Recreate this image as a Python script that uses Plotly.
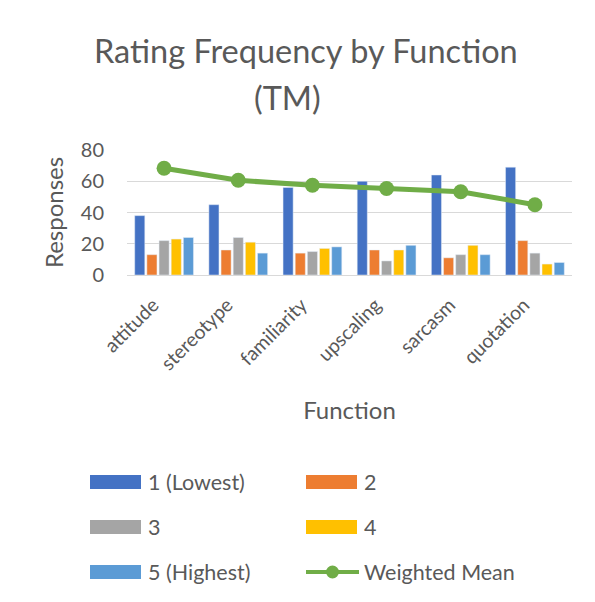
import plotly.graph_objects as go

categories = ["attitude", "stereotype", "familiarity", "upscaling", "sarcasm", "quotation"]
r1_lowest = [38, 45, 56, 60, 64, 69]
r2 = [13, 16, 14, 16, 11, 22]
r3 = [22, 24, 15, 9, 13, 14]
r4 = [23, 21, 17, 16, 19, 7]
r5_highest = [24, 14, 18, 19, 13, 8]
weighted_mean = [68.3, 60.6, 57.4, 55.4, 53.3, 45.0]
y_ticks = [0, 20, 40, 60, 80]

series_names = ["1 (Lowest)", "2", "3", "4", "5 (Highest)"]
colors = ["#4472C4", "#ED7D31", "#A5A5A5", "#FFC000", "#5B9BD5"]
line_color = "#70AD47"
text_color = "#595959"
FONT = "Lato"

# page has an 8px body margin; the figure is sized to fit the window
OFF = 8
W, H = 595 - OFF, 602 - OFF
L, R, T, B = 127 - OFF, 23, 150 - OFF, 327
PW, PH = W - L - R, H - T - B


def px(x):
    return (x - OFF - L) / PW


def py(y):
    return (H - B - (y - OFF)) / PH


fig = go.Figure()
for name, vals, col in zip(series_names, [r1_lowest, r2, r3, r4, r5_highest], colors):
    fig.add_trace(go.Bar(x=categories, y=vals, name=name, marker_color=col,
                         showlegend=False))
fig.add_trace(go.Scatter(x=categories, y=weighted_mean, name="Weighted Mean",
                         mode="lines+markers",
                         line=dict(color=line_color, width=5),
                         marker=dict(color=line_color, size=15),
                         showlegend=False))

shapes = []
annotations = []

# title lines
annotations.append(dict(text="Rating Frequency by Function", xref="paper", yref="paper",
                        x=px(305.5), y=py(50), xanchor="center", yanchor="middle",
                        showarrow=False, font=dict(family=FONT, size=32.5, color=text_color)))
annotations.append(dict(text="(TM)", xref="paper", yref="paper",
                        x=px(287.5), y=py(97), xanchor="center", yanchor="middle",
                        showarrow=False, font=dict(family=FONT, size=32.5, color=text_color)))

# manual legend
legend_items = [(n, c, "bar") for n, c in zip(series_names, colors)] + [("Weighted Mean", line_color, "line")]
col_x = [90, 306]
row_y = [482, 527, 572]
for i, (name, col, kind) in enumerate(legend_items):
    cx = col_x[i % 2]
    cy = row_y[i // 2]
    if kind == "bar":
        shapes.append(dict(type="rect", xref="paper", yref="paper",
                           x0=px(cx), x1=px(cx + 51), y0=py(cy - 7), y1=py(cy + 7),
                           fillcolor=col, line=dict(width=0)))
    else:
        shapes.append(dict(type="line", xref="paper", yref="paper",
                           x0=px(cx), x1=px(cx + 53), y0=py(cy), y1=py(cy),
                           line=dict(color=col, width=4)))
        shapes.append(dict(type="circle", xref="paper", yref="paper",
                           x0=px(cx + 26.5 - 6.5), x1=px(cx + 26.5 + 6.5),
                           y0=py(cy - 6.5), y1=py(cy + 6.5),
                           fillcolor=col, line=dict(width=0)))
    annotations.append(dict(text=name, xref="paper", yref="paper",
                            x=px(cx + 56), y=py(cy), xanchor="left", yanchor="middle",
                            showarrow=False, font=dict(family=FONT, size=21.5, color=text_color)))

fig.update_layout(
    width=W, height=H,
    margin=dict(l=L, r=R, t=T, b=B),
    paper_bgcolor="white", plot_bgcolor="white",
    barmode="group", bargap=0.18, bargroupgap=0.17,
    font=dict(family=FONT, color=text_color),
    showlegend=False,
    shapes=shapes,
    annotations=annotations,
    xaxis=dict(tickangle=-45, tickfont=dict(size=19.5, color=text_color),
               showline=True, linecolor="#D9D9D9", linewidth=1, ticks="",
               ticklabelstandoff=10, ticklabelshift=-11,
               title=dict(text="Function", font=dict(size=24, color=text_color), standoff=28)),
    yaxis=dict(range=[0, 80], tickvals=y_ticks, showgrid=True, gridcolor="#D9D9D9",
               gridwidth=1, zeroline=False, ticks="", ticklabelstandoff=22,
               tickfont=dict(size=20, color=text_color),
               title=dict(text="Responses", font=dict(size=24, color=text_color), standoff=10)),
)

fig.write_html("out.html")
